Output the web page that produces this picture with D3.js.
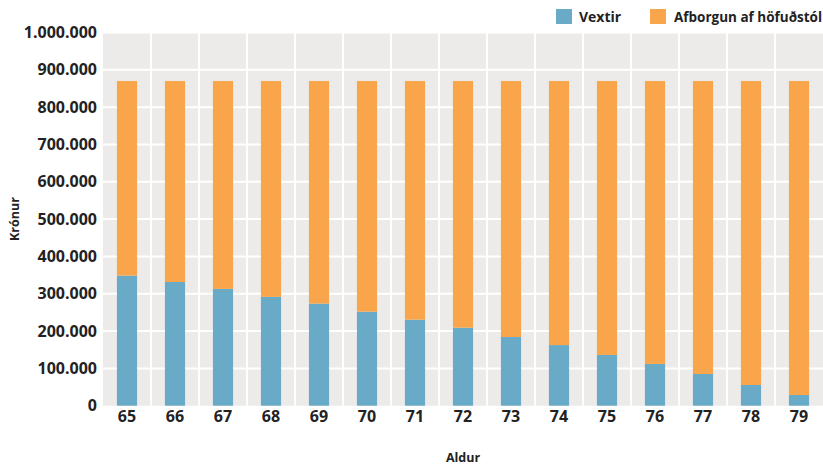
<!DOCTYPE html>
<html><head><meta charset="utf-8">
<script src="https://cdn.jsdelivr.net/npm/d3@7/dist/d3.min.js"></script>
<style>body{margin:0;background:#fff}text{font-family:"Open Sans",sans-serif;font-weight:700;fill:#222}</style>
</head><body><svg id="c" width="823" height="469"></svg>
<script>
const ages = ["65","66","67","68","69","70","71","72","73","74","75","76","77","78","79"];
const vextir = [348500,331500,313000,291500,273500,252000,230500,209000,184000,162500,136000,112000,85000,55500,28700];
const totalPayment = [870000,870000,870000,870000,870000,870000,870000,870000,870000,870000,870000,870000,870000,870000,870000];
const afborgun = totalPayment.map((t,i)=>t-vextir[i]);
const yTicks = [0,100000,200000,300000,400000,500000,600000,700000,800000,900000,1000000];
const seriesNames = ["Vextir","Afborgun af höfuðstól"];
const colors = ["#69aac7","#f9a54b"];

const svg = d3.select("#c");
const m = {l:103, r:823, t:32.5, b:405.7};
const x = d3.scaleBand().domain(ages).range([m.l,m.r]).paddingInner(0.58).paddingOuter(0.29);
const xb = d3.scaleBand().domain(ages).range([m.l,m.r]);
const y = d3.scaleLinear().domain([0,1000000]).range([m.b,m.t]);
const fmt = v => d3.format(",")(v).replace(/,/g,".");

svg.append("rect").attr("x",m.l).attr("y",m.t).attr("width",m.r-m.l).attr("height",m.b-m.t).attr("fill","#ecebe9");
svg.append("g").selectAll("line").data(yTicks.slice(1)).join("line")
  .attr("x1",m.l).attr("x2",m.r).attr("y1",d=>y(d)).attr("y2",d=>y(d)).attr("stroke","#fff").attr("stroke-width",2);
svg.append("g").selectAll("line").data(ages.slice(1)).join("line")
  .attr("x1",d=>xb(d)).attr("x2",d=>xb(d)).attr("y1",m.t).attr("y2",m.b).attr("stroke","#fff").attr("stroke-width",2);

const stack = d3.stack().keys([0,1]).value((d,k)=>k===0?vextir[d]:afborgun[d])(d3.range(ages.length));
stack.forEach((s,k)=>{
  svg.append("g").selectAll("rect").data(s).join("rect")
    .attr("x",(d,i)=>x(ages[i])).attr("width",x.bandwidth())
    .attr("y",d=>y(d[1])).attr("height",d=>y(d[0])-y(d[1])).attr("fill",colors[k]);
});

const ya = svg.append("g").attr("transform",`translate(${m.l},0)`)
  .call(d3.axisLeft(y).tickValues(yTicks).tickFormat(fmt).tickSize(0).tickPadding(6));
ya.select(".domain").remove();
ya.selectAll("text").style("font-size","16px").style("font-family","Open Sans").style("font-weight","700").attr("fill","#222");

const xa = svg.append("g").attr("transform",`translate(0,${m.b})`)
  .call(d3.axisBottom(x).tickSize(0).tickPadding(5));
xa.select(".domain").remove();
xa.selectAll("text").style("font-size","16px").style("font-family","Open Sans").style("font-weight","700").attr("fill","#222");

svg.append("text").attr("transform",`translate(19,${(m.t+m.b)/2}) rotate(-90)`).attr("text-anchor","middle").style("font-size","12.5px").text("Krónur");
svg.append("text").attr("x",(m.l+m.r)/2).attr("y",462).attr("text-anchor","middle").style("font-size","12.5px").text("Aldur");

const leg = [{x:556,fs:"14px"},{x:650,fs:"13.5px"}];
seriesNames.forEach((n,i)=>{
  svg.append("rect").attr("x",leg[i].x).attr("y",9).attr("width",16).attr("height",15).attr("fill",colors[i]);
  svg.append("text").attr("x",leg[i].x+(i?24:23)).attr("y",21.5).style("font-size",leg[i].fs).text(n);
});
</script></body></html>
